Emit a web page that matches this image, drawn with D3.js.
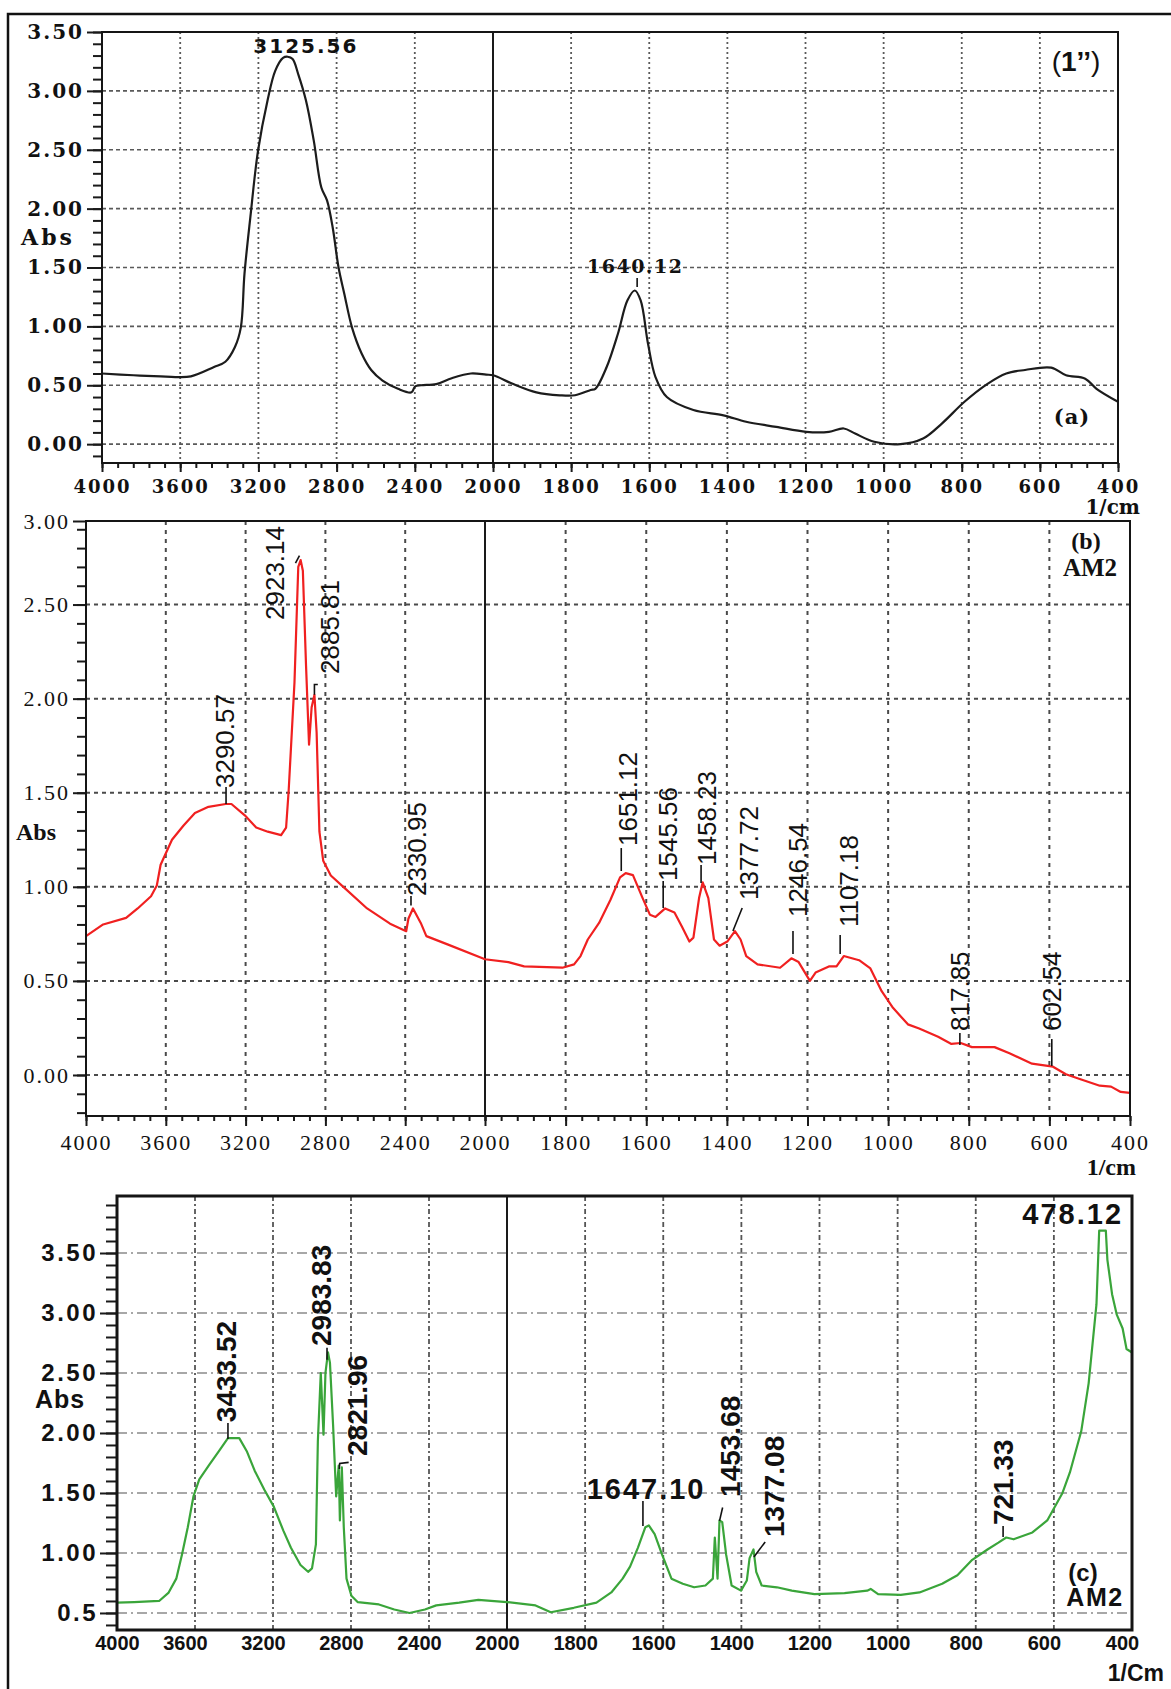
<!DOCTYPE html>
<html>
<head>
<meta charset="utf-8">
<script src="https://cdn.jsdelivr.net/npm/d3@7/dist/d3.min.js"></script>
<style>
html,body{margin:0;padding:0;background:#fff;}
svg{display:block;}
</style>
</head>
<body>
<svg id="chart" width="1171" height="1689"></svg>
<script>
// ---------------- DATA ----------------
const xTickValues = [4000,3600,3200,2800,2400,2000,1800,1600,1400,1200,1000,800,600,400];
const xGridValues = [3600,3200,2800,2400,1800,1600,1400,1200,1000,800,600];

const yTicksA  = [0,0.5,1,1.5,2,2.5,3,3.5];
const yLabelsA = ["0.00","0.50","1.00","1.50","2.00","2.50","3.00","3.50"];
const yGridA   = [0,0.5,1,1.5,2,2.5,3];

const yTicksB  = [0,0.5,1,1.5,2,2.5,3];
const yLabelsB = ["0.00","0.50","1.00","1.50","2.00","2.50","3.00"];
const yGridB   = [0,0.5,1,1.5,2,2.5];

const yTicksC  = [0.5,1,1.5,2,2.5,3,3.5];
const yLabelsC = ["0.5","1.00","1.50","2.00","2.50","3.00","3.50"];
const yGridC   = [0.5,1,1.5,2,2.5,3,3.5];

// spectrum (a): [wavenumber 1/cm, absorbance]
const spectrumA = [[4000,0.60],[3839,0.585],[3700,0.575],[3624,0.57],[3545,0.576],[3427,0.655],[3369,0.70],[3320,0.825],[3290,0.99],[3271,1.45],[3241,1.93],[3202,2.49],[3153,2.92],[3114,3.17],[3074,3.28],[3050,3.29],[3025,3.27],[2996,3.14],[2957,2.92],[2917,2.58],[2878,2.18],[2849,2.07],[2820,1.84],[2790,1.50],[2761,1.28],[2721,0.99],[2672,0.77],[2623,0.63],[2565,0.54],[2486,0.47],[2417,0.44],[2398,0.49],[2368,0.50],[2290,0.51],[2211,0.56],[2113,0.60],[2035,0.59],[2000,0.585],[1948,0.51],[1889,0.44],[1829,0.415],[1790,0.415],[1750,0.46],[1738,0.47],[1709,0.655],[1680,0.94],[1656,1.22],[1637,1.305],[1622,1.22],[1603,0.85],[1584,0.57],[1555,0.40],[1487,0.29],[1410,0.245],[1352,0.19],[1275,0.147],[1198,0.105],[1140,0.105],[1102,0.133],[1073,0.09],[1024,0.02],[957,0.0],[899,0.048],[851,0.175],[793,0.36],[735,0.51],[686,0.60],[638,0.63],[571,0.65],[533,0.585],[484,0.556],[455,0.47],[400,0.36]];

// spectrum (b) AM2
const spectrumB = [[4000,0.738],[3914,0.80],[3799,0.835],[3741,0.885],[3674,0.95],[3645,1.007],[3626,1.117],[3569,1.25],[3511,1.326],[3454,1.392],[3386,1.425],[3300,1.44],[3271,1.44],[3204,1.38],[3147,1.315],[3089,1.293],[3022,1.275],[2997,1.315],[2984,1.513],[2955,2.086],[2936,2.70],[2924,2.736],[2913,2.68],[2897,2.174],[2882,1.755],[2869,1.954],[2855,2.02],[2844,1.82],[2830,1.293],[2811,1.139],[2773,1.06],[2706,0.996],[2591,0.885],[2476,0.804],[2395,0.764],[2384,0.83],[2361,0.885],[2322,0.808],[2294,0.738],[2188,0.694],[2000,0.615],[1942,0.60],[1903,0.577],[1808,0.57],[1779,0.588],[1763,0.632],[1745,0.72],[1717,0.808],[1689,0.93],[1665,1.05],[1651,1.073],[1633,1.062],[1609,0.94],[1591,0.852],[1577,0.84],[1553,0.885],[1530,0.863],[1511,0.786],[1493,0.709],[1483,0.73],[1469,0.94],[1460,1.024],[1446,0.94],[1432,0.72],[1418,0.687],[1399,0.709],[1380,0.764],[1366,0.72],[1352,0.632],[1324,0.588],[1268,0.57],[1240,0.62],[1222,0.60],[1194,0.50],[1180,0.544],[1147,0.577],[1128,0.577],[1110,0.632],[1072,0.61],[1044,0.566],[1016,0.445],[988,0.357],[951,0.269],[923,0.247],[876,0.203],[843,0.165],[820,0.17],[792,0.148],[736,0.148],[699,0.115],[643,0.06],[591,0.044],[559,0.004],[521,-0.024],[475,-0.057],[447,-0.062],[423,-0.09],[400,-0.095]];

// spectrum (c) AM2
const spectrumC = [[4000,0.586],[3912,0.59],[3784,0.60],[3735,0.67],[3696,0.786],[3667,0.986],[3637,1.214],[3608,1.471],[3578,1.614],[3529,1.729],[3480,1.843],[3431,1.957],[3373,1.957],[3333,1.843],[3294,1.686],[3245,1.529],[3196,1.386],[3147,1.186],[3108,1.043],[3059,0.90],[3020,0.843],[3000,0.871],[2980,1.071],[2970,1.929],[2955,2.50],[2941,1.986],[2931,2.50],[2918,2.671],[2908,2.586],[2892,2.071],[2876,1.471],[2863,1.729],[2857,1.271],[2847,1.714],[2837,1.214],[2823,0.786],[2798,0.643],[2765,0.59],[2657,0.571],[2578,0.529],[2500,0.50],[2421,0.529],[2363,0.563],[2245,0.586],[2147,0.609],[2000,0.591],[1927,0.563],[1888,0.506],[1829,0.543],[1771,0.586],[1733,0.671],[1704,0.786],[1685,0.886],[1665,1.043],[1646,1.214],[1637,1.229],[1622,1.157],[1603,0.986],[1579,0.786],[1550,0.743],[1521,0.714],[1492,0.729],[1473,0.786],[1468,1.129],[1461,0.786],[1456,1.271],[1449,1.257],[1439,0.986],[1425,0.729],[1401,0.686],[1386,0.771],[1379,0.957],[1369,1.029],[1362,0.843],[1348,0.729],[1309,0.714],[1271,0.686],[1213,0.657],[1136,0.666],[1078,0.686],[1069,0.70],[1050,0.657],[992,0.651],[944,0.671],[886,0.743],[847,0.814],[809,0.943],[770,1.029],[742,1.086],[722,1.129],[703,1.114],[655,1.171],[617,1.271],[578,1.50],[559,1.671],[530,2.014],[511,2.414],[491,3.071],[484,3.686],[467,3.686],[463,3.443],[451,3.157],[439,2.986],[424,2.871],[414,2.70],[400,2.671]];

// peak annotations: [label, wavenumber anchor, absorbance anchor, leader points]
const peaksA = [
  ["3125.56", 2957, 3.32, null],
  ["1640.12", 1636, 1.453, [[1631,1.41],[1631,1.334]]]
];
const peaksB = [
  ["3290.57", 3303, 1.525, [[3298,1.53],[3298,1.44]]],
  ["2923.14", 3053, 2.418, [[2950,2.72],[2930,2.76]]],
  ["2885.81", 2777, 2.131, [[2855,2.02],[2855,2.075],[2838,2.075]]],
  ["2330.95", 2341, 0.951, [[2371,0.951],[2371,0.90]]],
  ["1651.12", 1645, 1.217, [[1662,1.206],[1662,1.084]]],
  ["1545.56", 1546, 1.031, [[1558,1.031],[1558,0.887]]],
  ["1458.23", 1449, 1.116, [[1464,1.116],[1464,1.02]]],
  ["1377.72", 1345, 0.93, [[1362,0.887],[1385,0.765]]],
  ["1246.54", 1224, 0.84, [[1236,0.765],[1236,0.643]]],
  ["1107.18", 1097, 0.786, [[1119,0.744],[1119,0.643]]],
  ["817.85", 822, 0.234, [[822,0.223],[822,0.159]]],
  ["602.54", 594, 0.234, [[594,0.191],[594,0.048]]]
];
const peaksC = [
  ["3433.52", 3441, 2.09, [[3431,2.083],[3431,1.95]]],
  ["2983.83", 2949, 2.725, [[2923,2.71],[2923,2.61]]],
  ["2821.96", 2769, 1.808, [[2860,1.70],[2858,1.745],[2812,1.755]]],
  ["1453.68", 1429, 1.467, [[1448,1.379],[1456,1.267]]],
  ["1377.08", 1316, 1.133, [[1339,1.092],[1368,0.967]]],
  ["721.33", 728, 1.233, [[730,1.225],[730,1.133]]]
];
const peaksCflat = [
  ["1647.10", 1644, 1.45, [[1652,1.433],[1652,1.225]], "middle"],
  ["478.12", 423, 3.742, null, "end"]
];

// ---------------- DRAWING ----------------
const svg = d3.select("#chart");
svg.append("rect").attr("width",1171).attr("height",1689).attr("fill","#fff");
// outer border (top and left)
svg.append("path").attr("d","M8,1689 V14 H1171").attr("fill","none").attr("stroke","#111").attr("stroke-width",2.5);

function range10(a,b){ return d3.range(a,b+1).map(i=>i/10); }
const minorXLeft  = d3.range(0,26).map(i=>4000-i*80);
const minorXRight = d3.range(0,41).map(i=>2000-i*40);
const minorX = minorXLeft.concat(minorXRight);

function styleText(sel,o){
  sel.style("font-family",o.ff).style("font-size",o.fs+"px").style("font-weight",o.fw||"normal")
     .style("letter-spacing",(o.ls||0)+"px").attr("fill",o.fill||"#111");
  return sel;
}

function addGrid(g,x,y,B,sv,sh,yg){
  g.append("g").selectAll("line").data(xGridValues).join("line")
    .attr("x1",d=>x(d)).attr("x2",d=>x(d)).attr("y1",B.t).attr("y2",B.b)
    .attr("stroke",sv.c).attr("stroke-width",sv.w).attr("stroke-dasharray",sv.d);
  g.append("g").selectAll("line").data(yg).join("line")
    .attr("y1",d=>y(d)).attr("y2",d=>y(d)).attr("x1",B.l).attr("x2",B.r)
    .attr("stroke",sh.c).attr("stroke-width",sh.w).attr("stroke-dasharray",sh.d);
  g.append("line").attr("x1",x(2000)).attr("x2",x(2000)).attr("y1",B.t).attr("y2",B.b)
    .attr("stroke","#1a1a1a").attr("stroke-width",2);
}

function addYAxis(g,y,B,vals,labels,minor,o){
  const ga = g.append("g").attr("transform",`translate(${B.l},0)`);
  ga.append("g").call(d3.axisLeft(y).tickValues(minor).tickSize(o.minLen).tickFormat(""))
    .call(s=>s.select(".domain").remove());
  const gm = ga.append("g").call(d3.axisLeft(y).tickValues(vals).tickSize(o.majLen).tickPadding(o.pad).tickFormat((d,i)=>labels[i]))
    .call(s=>s.select(".domain").remove());
  ga.selectAll(".tick line").attr("stroke","#1a1a1a").attr("stroke-width",o.tw);
  styleText(gm.selectAll("text"),o);
}

function addXAxis(g,x,B,minor,o){
  const ga = g.append("g").attr("transform",`translate(0,${B.b})`);
  if (o.minLen>0) {
    ga.append("g").call(d3.axisBottom(x).tickValues(minor).tickSize(o.minLen).tickFormat(""))
      .call(s=>s.select(".domain").remove());
  }
  const gm = ga.append("g").call(d3.axisBottom(x).tickValues(xTickValues).tickSize(o.majLen).tickFormat(d3.format("d")))
    .call(s=>s.select(".domain").remove());
  ga.selectAll(".tick line").attr("stroke","#1a1a1a").attr("stroke-width",o.tw);
  styleText(gm.selectAll("text"),o).attr("y",o.base).attr("dy",null).attr("dx",(d,i)=> i===0?0:(o.dx||0));
}

function addFrame(g,B,w){
  g.append("rect").attr("x",B.l).attr("y",B.t).attr("width",B.r-B.l).attr("height",B.b-B.t)
    .attr("fill","none").attr("stroke","#151515").attr("stroke-width",w);
}

function leader(g,x,y,pts){
  if(!pts) return;
  g.append("path").datum(pts).attr("d",d3.line().x(d=>x(d[0])).y(d=>y(d[1])))
    .attr("fill","none").attr("stroke","#111").attr("stroke-width",1.6);
}

function rotLabels(g,x,y,peaks,o){
  peaks.forEach(p=>{
    styleText(g.append("text")
      .attr("transform",`translate(${x(p[1])},${y(p[2])}) rotate(-90)`)
      .attr("text-anchor","start").attr("dominant-baseline","central"),o).text(p[0]);
    leader(g,x,y,p[3]);
  });
}

function fixedText(g,xp,yp,txt,anchor,o){
  return styleText(g.append("text").attr("x",xp).attr("y",yp).attr("text-anchor",anchor),o).text(txt);
}

// ===== Panel (a) =====
{
  const B = {l:102,m:493,r:1118,t:32,b:463};
  const x = d3.scaleLinear().domain([4000,2000,400]).range([B.l,B.m,B.r]);
  const y = d3.scaleLinear().domain([-0.16,3.5]).range([B.b,B.t]);
  const g = svg.append("g");
  addGrid(g,x,y,B,{c:"#5a5a5a",w:1.8,d:"2,3"},{c:"#5a5a5a",w:1.6,d:"4,3"},yGridA);
  const serifB = {ff:"DejaVu Serif",fw:"bold"};
  addYAxis(g,y,B,yTicksA,yLabelsA,range10(-1,35),Object.assign({minLen:9,majLen:15,pad:3,tw:2,fs:20,ls:2},serifB));
  addXAxis(g,x,B,minorX,Object.assign({minLen:5,majLen:9,tw:2,fs:18,ls:2,base:30},serifB));
  g.append("path").datum(spectrumA).attr("d",d3.line().x(d=>x(d[0])).y(d=>y(d[1])).curve(d3.curveCatmullRom.alpha(0.5)))
    .attr("fill","none").attr("stroke","#1c1c1c").attr("stroke-width",2.2);
  addFrame(g,B,2);
  // peak labels
  fixedText(g,x(peaksA[0][1]),y(peaksA[0][2]),peaksA[0][0],"middle",{ff:"DejaVu Sans",fw:"bold",fs:20,ls:2});
  fixedText(g,x(peaksA[1][1]),y(peaksA[1][2]),peaksA[1][0],"middle",{ff:"DejaVu Serif",fw:"bold",fs:19,ls:1.5});
  leader(g,x,y,peaksA[1][3]);
  fixedText(g,48,245,"Abs","middle",Object.assign({fs:22,ls:3},serifB));
  fixedText(g,1140,514,"1/cm","end",Object.assign({fs:20},serifB));
  fixedText(g,1072,424,"(a)","middle",Object.assign({fs:21,ls:1},serifB));
  const t = g.append("text").attr("x",1076).attr("y",71).attr("text-anchor","middle")
    .style("font-family","Liberation Sans").style("font-size","28px").attr("fill","#111");
  t.append("tspan").text("(");
  t.append("tspan").style("font-weight","bold").text("1’’");
  t.append("tspan").text(")");
}

// ===== Panel (b) =====
{
  const B = {l:86,m:485,r:1130,t:521,b:1116};
  const x = d3.scaleLinear().domain([4000,2000,400]).range([B.l,B.m,B.r]);
  // clamp: the top "3.00" tick sits on the top edge of the frame, as in the source figure
  const y = d3.scaleLinear().domain([-0.218,2.944]).range([B.b,B.t]).clamp(true);
  const g = svg.append("g");
  addGrid(g,x,y,B,{c:"#4a4a4a",w:2,d:"4,5"},{c:"#4a4a4a",w:2,d:"4,4"},yGridB);
  const serif = {ff:"Liberation Serif",fw:"normal"};
  addYAxis(g,y,B,yTicksB,yLabelsB,range10(-2,29),Object.assign({minLen:9,majLen:13,pad:3,tw:2,fs:22,ls:2},serif));
  addXAxis(g,x,B,minorX,Object.assign({minLen:5,majLen:10,tw:2,fs:22,ls:2,base:34},serif));
  g.append("path").datum(spectrumB).attr("d",d3.line().x(d=>x(d[0])).y(d=>y(d[1])))
    .attr("fill","none").attr("stroke","#f02020").attr("stroke-width",2.2).attr("stroke-linejoin","round");
  addFrame(g,B,2);
  rotLabels(g,x,y,peaksB,{ff:"Liberation Sans",fw:"normal",fs:26,fill:"#111"});
  fixedText(g,36,840,"Abs","middle",{ff:"Liberation Serif",fw:"bold",fs:24});
  fixedText(g,1136,1175,"1/cm","end",{ff:"Liberation Serif",fw:"bold",fs:24});
  fixedText(g,1086,549,"(b)","middle",{ff:"Liberation Serif",fw:"bold",fs:24});
  fixedText(g,1090,576,"AM2","middle",{ff:"Liberation Serif",fw:"bold",fs:25});
}

// ===== Panel (c) =====
{
  const B = {l:117,m:507,r:1132,t:1196,b:1630};
  const x = d3.scaleLinear().domain([4000,2000,400]).range([B.l,B.m,B.r]);
  const y = d3.scaleLinear().domain([0.358,3.975]).range([B.b,B.t]);
  const g = svg.append("g");
  addGrid(g,x,y,B,{c:"#555",w:1.8,d:"5,3,2,3"},{c:"#8a8a8a",w:1.6,d:"10,4,2,4"},yGridC);
  const sansB = {ff:"Liberation Sans",fw:"bold"};
  addYAxis(g,y,B,yTicksC,yLabelsC,range10(4,39),Object.assign({minLen:11,majLen:17,pad:2,tw:2,fs:24,ls:2.5},sansB));
  addXAxis(g,x,B,minorX,Object.assign({minLen:0,majLen:0,tw:0,fs:20,ls:0,base:20,dx:-10},sansB));
  g.append("path").datum(spectrumC).attr("d",d3.line().x(d=>x(d[0])).y(d=>y(d[1])))
    .attr("fill","none").attr("stroke","#3aa53a").attr("stroke-width",2.2).attr("stroke-linejoin","round");
  addFrame(g,B,3);
  rotLabels(g,x,y,peaksC,Object.assign({fs:28,fill:"#111"},sansB));
  peaksCflat.forEach(p=>{
    fixedText(g,x(p[1]),y(p[2]),p[0],p[4],Object.assign({fs:29,ls:2},sansB));
    leader(g,x,y,p[3]);
  });
  fixedText(g,60,1408,"Abs","middle",Object.assign({fs:25,ls:1},sansB));
  fixedText(g,1083,1581,"(c)","middle",Object.assign({fs:24},sansB));
  fixedText(g,1095,1606,"AM2","middle",Object.assign({fs:25,ls:1.5},sansB));
  fixedText(g,1164,1681,"1/Cm","end",Object.assign({fs:23},sansB));
}
</script>
</body>
</html>
